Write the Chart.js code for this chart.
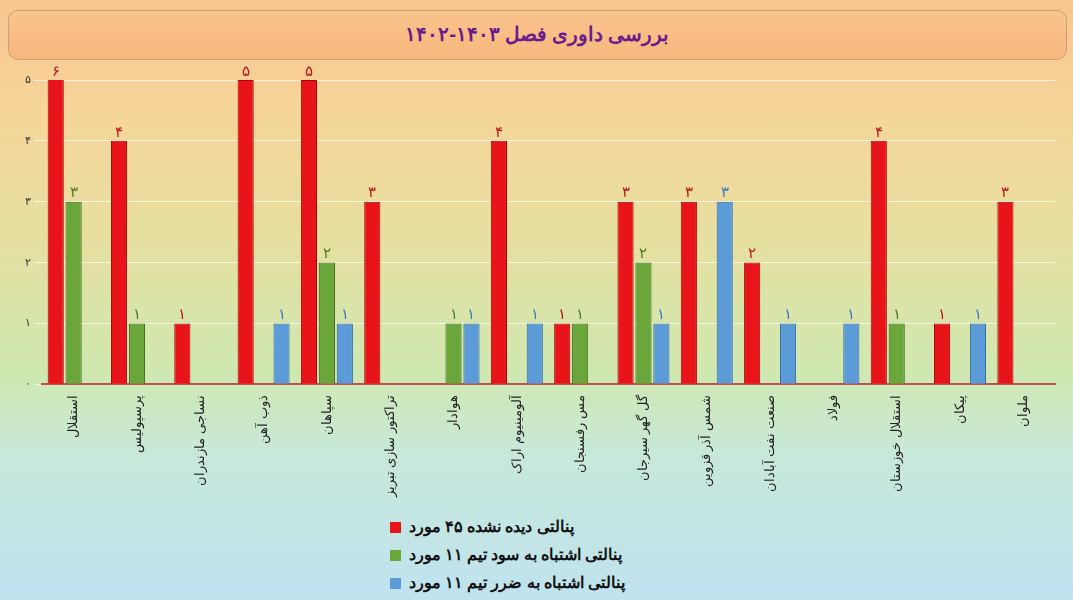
<!DOCTYPE html>
<html><head><meta charset="utf-8">
<script src="https://cdn.jsdelivr.net/npm/chart.js@4"></script>
<style>
html,body{margin:0;padding:0}
body{width:1073px;height:600px;overflow:hidden;font-family:"Noto Sans",sans-serif;
 background:linear-gradient(to bottom,#f7c48e 0%,#f6d59a 18%,#e6e0a0 40%,#cfe8b0 62%,#c8e8d8 75%,#bfe3f0 100%);position:relative}
#title{position:absolute;left:8px;top:10px;width:1057px;height:48px;border:1px solid #c9a07a;border-radius:10px;
 background:linear-gradient(#f9c48e,#f7b77c);text-align:center;font:bold 20px "Noto Sans",sans-serif;color:#6a1c8c;line-height:46px;direction:rtl}
#wrap{position:absolute;left:22px;top:60px;width:1043px;height:440px}
#legend{position:absolute;left:390px;top:512px;direction:ltr;text-align:left;font:bold 16px "Noto Sans",sans-serif;color:#111}
#legend div{height:28px;line-height:28px}
#legend div b{direction:rtl;unicode-bidi:isolate;font-weight:bold}
#legend span{display:inline-block;width:11px;height:11px;margin-right:8px;vertical-align:middle}
</style></head><body>
<div id="title">بررسی داوری فصل ۱۴۰۳-۱۴۰۲</div>
<div id="wrap"><canvas id="c"></canvas></div>
<div id="legend">
 <div><span style="background:#e8141a"></span><b>پنالتی دیده نشده ۴۵ مورد</b></div>
 <div><span style="background:#6aa63a"></span><b>پنالتی اشتباه به سود تیم ۱۱ مورد</b></div>
 <div><span style="background:#5b9bd8"></span><b>پنالتی اشتباه به ضرر تیم ۱۱ مورد</b></div>
</div>
<script>
const teams = ['استقلال','پرسپولیس','نساجی مازندران','ذوب آهن','سپاهان','تراکتور سازی تبریز','هوادار','آلومینیوم اراک','مس رفسنجان','گل گهر سیرجان','شمس آذر قزوین','صنعت نفت آبادان','فولاد','استقلال خوزستان','پیکان','ملوان'];
const unseen = [6,4,1,5,5,3,0,4,1,3,3,2,0,4,1,3];
const favor  = [3,1,0,0,2,0,1,0,1,2,0,0,0,1,0,0];
const against= [0,0,0,1,1,0,1,1,0,1,3,1,1,0,1,0];
const yTicks = [0,1,2,3,4,5];

const fa = n => String(n).replace(/\d/g, d => '۰۱۲۳۴۵۶۷۸۹'[d]);
const labelColors = ['#c0141a','#4a7a22','#3a78c0'];

const valueLabels = {
  id: 'valueLabels',
  afterDatasetsDraw(chart) {
    const ctx = chart.ctx;
    ctx.save();
    ctx.font = '15px "Noto Sans", sans-serif';
    ctx.textAlign = 'center';
    ctx.textBaseline = 'bottom';
    chart.data.datasets.forEach((ds, i) => {
      chart.getDatasetMeta(i).data.forEach((bar, j) => {
        const v = ds.data[j];
        if (!v) return;
        ctx.fillStyle = labelColors[i];
        ctx.fillText(fa(v), bar.x, Math.max(bar.y, chart.chartArea.top) - 1);
      });
    });
    ctx.restore();
  }
};

new Chart(document.getElementById('c'), {
  type: 'bar',
  data: {
    labels: teams,
    datasets: [
      { label: 'پنالتی دیده نشده ۴۵ مورد', data: unseen, backgroundColor: '#e8141a', borderColor: '#a00', borderWidth: 1 },
      { label: 'پنالتی اشتباه به سود تیم ۱۱ مورد', data: favor, backgroundColor: '#6aa63a', borderColor: '#3d6b1e', borderWidth: 1 },
      { label: 'پنالتی اشتباه به ضرر تیم ۱۱ مورد', data: against, backgroundColor: '#5b9bd8', borderColor: '#2f6aa5', borderWidth: 1 }
    ]
  },
  options: {
    responsive: true, maintainAspectRatio: false, animation: false,
    layout: { padding: { top: 20, right: 10 } },
    plugins: { legend: { display: false }, tooltip: { enabled: false } },
    datasets: { bar: { categoryPercentage: 0.85, barPercentage: 0.9 } },
    scales: {
      x: {
        grid: { display: false },
        border: { color: '#c0504d', width: 2 },
        ticks: { maxRotation: 90, minRotation: 90, color: '#222', font: { size: 13, family: '"Noto Sans", sans-serif' } }
      },
      y: {
        min: 0, max: 5,
        afterBuildTicks: ax => { ax.ticks = yTicks.map(v => ({ value: v })); },
        grid: { color: 'rgba(255,255,255,0.7)' },
        border: { display: false },
        ticks: { color: '#333', font: { size: 11 }, callback: v => fa(v) }
      }
    }
  },
  plugins: [valueLabels]
});
</script>
</body></html>
